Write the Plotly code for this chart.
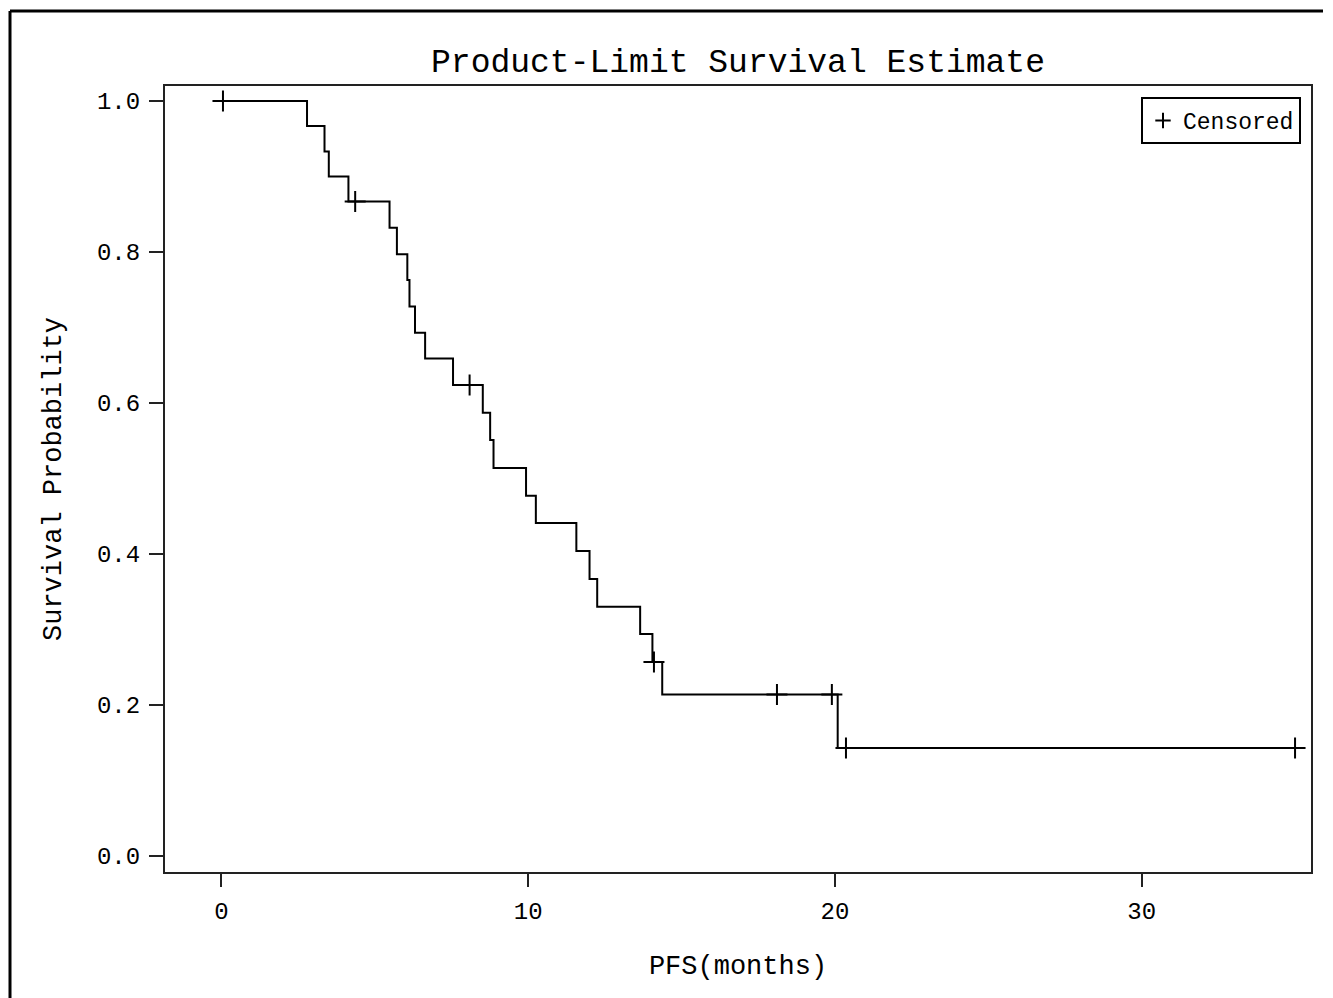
import plotly.graph_objects as go

# Kaplan-Meier step curve
step_times = [0.0, 2.79, 3.36, 3.50, 4.14, 5.48, 5.72, 6.06, 6.13, 6.31, 6.64,
              7.55, 8.52, 8.76, 8.87, 9.93, 10.25, 11.57, 12.00, 12.25, 13.65,
              14.05, 14.37, 20.09, 35.0]
step_surv = [1.0, 0.967, 0.933, 0.900, 0.867, 0.832, 0.797, 0.763, 0.728, 0.693,
             0.659, 0.624, 0.587, 0.551, 0.514, 0.477, 0.441, 0.404, 0.367, 0.330,
             0.294, 0.257, 0.214, 0.143, 0.143]

# Censored observations
cens_times = [0.05, 4.36, 8.09, 14.10, 18.11, 19.90, 20.36, 35.0]
cens_surv = [1.0, 0.867, 0.624, 0.257, 0.214, 0.214, 0.143, 0.143]

x_ticks = [0, 10, 20, 30]
y_ticks = [0.0, 0.2, 0.4, 0.6, 0.8, 1.0]

# page body has an 8px margin, so the figure is drawn 8px in from the window edge
OFF = 8
W, H = 1333 - OFF, 998 - OFF
ML, MR, MT, MB = 165 - OFF, 22, 86 - OFF, 126
PW, PH = W - ML - MR, H - MT - MB

def px(x):  # window pixel -> paper x
    return (x - OFF - ML) / PW

def py(y):  # window pixel -> paper y
    return (H - MB - (y - OFF)) / PH

FONT = "Liberation Mono"

fig = go.Figure()
fig.add_trace(go.Scatter(
    x=step_times, y=step_surv, mode="lines", line=dict(color="black", width=2, shape="hv"),
    showlegend=False, hoverinfo="skip"))
fig.add_trace(go.Scatter(
    x=cens_times, y=cens_surv, mode="markers", name="Censored", showlegend=False,
    marker=dict(symbol="cross-thin", size=15, line=dict(color="black", width=2), color="black")))
# legend entry (smaller symbol, as in the reference legend)
fig.add_trace(go.Scatter(
    x=[None], y=[None], mode="markers", name="Censored",
    marker=dict(symbol="cross-thin", size=11, line=dict(color="black", width=2), color="black")))

axis_common = dict(showgrid=False, zeroline=False, showline=True, linecolor="#222",
                   linewidth=2, mirror=True, ticks="outside", tickcolor="#222",
                   tickwidth=2, tickfont=dict(family=FONT, size=24, color="black"))

fig.update_xaxes(range=[-1.84, 35.52], tickvals=x_ticks, ticklen=13, ticklabelstandoff=3,
                 title=dict(text="PFS(months)", font=dict(family=FONT, size=27, color="black"),
                            standoff=30), **axis_common)
fig.update_yaxes(range=[-0.0212, 1.0199], tickvals=y_ticks, tickformat=".1f", ticklen=14,
                 ticklabelstandoff=4,
                 title=dict(text="Survival Probability", font=dict(family=FONT, size=27, color="black"),
                            standoff=28), **axis_common)

shapes = [
    dict(type="line", xref="paper", yref="paper", x0=px(10), x1=px(10), y0=py(11), y1=py(998),
         line=dict(color="black", width=3)),
    dict(type="line", xref="paper", yref="paper", x0=px(10), x1=px(1323), y0=py(11), y1=py(11),
         line=dict(color="black", width=3)),
    dict(type="line", xref="paper", yref="paper", x0=px(1332), x1=px(1332), y0=py(11), y1=py(998),
         line=dict(color="#dddddd", width=1)),
]

fig.update_layout(
    width=W, height=H, margin=dict(l=ML, r=MR, t=MT, b=MB, autoexpand=False),
    paper_bgcolor="white", plot_bgcolor="white",
    title=dict(text="Product-Limit Survival Estimate", x=0.5, xref="paper",
               y=1 - (60 - OFF) / H, yref="container", yanchor="middle", xanchor="center",
               font=dict(family=FONT, size=33, color="black")),
    legend=dict(x=px(1301), y=py(97), xanchor="right", yanchor="top",
                bordercolor="black", borderwidth=2, bgcolor="white",
                font=dict(family=FONT, size=23, color="black"),
                itemwidth=30, tracegroupgap=0),
    shapes=shapes,
    showlegend=True,
)

fig.write_html("out.html")
